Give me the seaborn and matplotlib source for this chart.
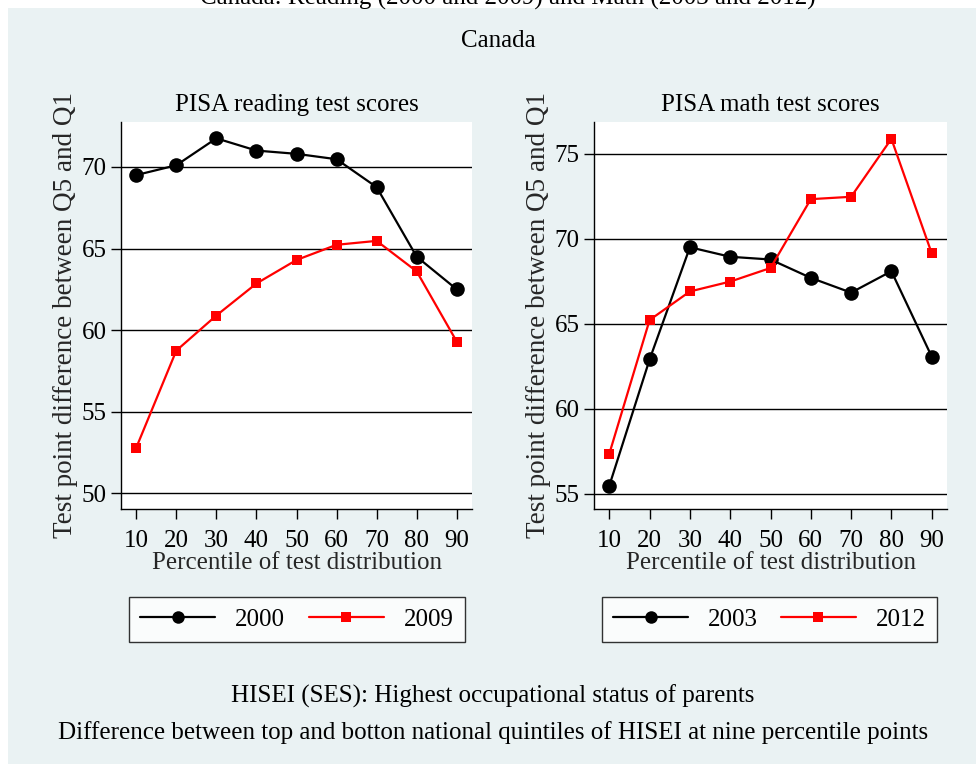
import matplotlib
matplotlib.use("Agg")
import matplotlib.pyplot as plt
import seaborn as sns
import pandas as pd
from matplotlib.patches import Rectangle
from matplotlib.lines import Line2D

percentiles = [10, 20, 30, 40, 50, 60, 70, 80, 90]
reading_2000 = [69.5, 70.1, 71.75, 71.0, 70.8, 70.47, 68.76, 64.5, 62.5]
reading_2009 = [52.8, 58.75, 60.9, 62.86, 64.3, 65.23, 65.47, 63.6, 59.3]
math_2003 = [55.47, 62.9, 69.5, 68.94, 68.78, 67.7, 66.83, 68.09, 63.07]
math_2012 = [57.35, 65.22, 66.9, 67.48, 68.28, 72.33, 72.47, 75.88, 69.15]

reading_ticks = [50, 55, 60, 65, 70]
math_ticks = [55, 60, 65, 70, 75]

sns.set_theme(style="white")
plt.rcParams['font.family'] = ['Liberation Serif', 'DejaVu Serif']
plt.rcParams['text.color'] = 'black'

FS = 18
W, H = 976, 764
fig = plt.figure(figsize=(W / 100, H / 100), dpi=100)
fig.patch.set_facecolor('white')
bg = Rectangle((8 / W, 0), 1, 1 - 8 / H, transform=fig.transFigure,
               facecolor='#EAF2F3', edgecolor='none', zorder=-10)
fig.patches.append(bg)

fig.text(0.52, 1.0 + 2 / H, "Canada: Reading (2000 and 2009) and Math (2003 and 2012)",
         ha='center', va='center', fontsize=FS)
fig.text(0.511, 1 - 41 / H, "Canada", ha='center', va='center', fontsize=FS)

def panel(rect, y1, y2, lab1, lab2, ticks, ylim, title, leg_rect):
    ax = fig.add_axes(rect)
    ax.set_facecolor('white')
    df = pd.DataFrame({
        'pct': percentiles * 2,
        'val': y1 + y2,
        'year': [lab1] * len(percentiles) + [lab2] * len(percentiles),
    })
    for lab, col, mk, ms in [(lab1, 'black', 'o', 10.5), (lab2, '#FF0000', 's', 7.5)]:
        sns.lineplot(data=df[df['year'] == lab], x='pct', y='val', ax=ax,
                     color=col, marker=mk, markersize=ms, markeredgewidth=0,
                     linewidth=1.6, legend=False, zorder=3)
    ax.set_xlim(6.2, 93.8)
    ax.set_ylim(*ylim)
    ax.set_xticks(percentiles)
    ax.set_yticks(ticks)
    for t in ticks:
        ax.axhline(t, color='black', linewidth=1.0, zorder=1)
    for s in ['top', 'right']:
        ax.spines[s].set_visible(False)
    for s in ['left', 'bottom']:
        ax.spines[s].set_color('black')
        ax.spines[s].set_linewidth(1.0)
    ax.tick_params(axis='both', direction='out', length=7.2, width=1.0,
                   colors='black', labelsize=FS, left=True, bottom=True)
    ax.tick_params(axis='x', pad=8)
    ax.tick_params(axis='y', pad=3)
    ax.set_xlabel("Percentile of test distribution", fontsize=FS, labelpad=0)
    ax.set_ylabel("Test point difference between Q5 and Q1", fontsize=19.5, labelpad=3)
    ax.set_title(title, fontsize=FS, pad=8)
    handles = [
        Line2D([], [], color='black', marker='o', markersize=9, linewidth=1.6, markeredgewidth=0),
        Line2D([], [], color='#FF0000', marker='s', markersize=7, linewidth=1.6, markeredgewidth=0),
    ]
    leg = fig.legend(handles, [lab1, lab2], bbox_to_anchor=leg_rect, loc='center',
                     mode='expand', ncol=2, fontsize=FS, frameon=True, fancybox=False,
                     handlelength=3.0, handletextpad=0.8, borderpad=0.45,
                     borderaxespad=0)
    leg.get_frame().set_edgecolor('black')
    leg.get_frame().set_linewidth(1.0)
    leg.get_frame().set_facecolor('white')
    return ax

panel([121 / W, 1 - 509 / H, 351 / W, 387 / H], reading_2000, reading_2009, '2000', '2009',
      reading_ticks, (49.05, 72.75), "PISA reading test scores",
      (129 / W, 1 - 643 / H, 336 / W, 47 / H))
panel([594 / W, 1 - 509 / H, 353 / W, 387 / H], math_2003, math_2012, '2003', '2012',
      math_ticks, (54.1, 76.87), "PISA math test scores",
      (602 / W, 1 - 643 / H, 335 / W, 47 / H))

fig.text(0.505, 1 - 696 / H, "HISEI (SES): Highest occupational status of parents",
         ha='center', va='center', fontsize=FS)
fig.text(0.505, 1 - 733 / H,
         "Difference between top and botton national quintiles of HISEI at nine percentile points",
         ha='center', va='center', fontsize=FS)

fig.savefig("out.png", dpi=100)
